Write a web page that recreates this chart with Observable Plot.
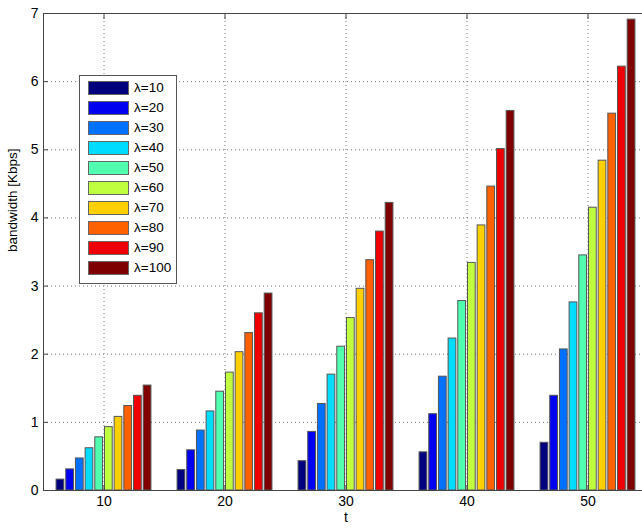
<!DOCTYPE html>
<html><head><meta charset="utf-8">
<script src="https://cdn.jsdelivr.net/npm/d3@7"></script>
<script src="https://cdn.jsdelivr.net/npm/@observablehq/plot@0.6"></script>
<style>
html,body{margin:0;padding:0;overflow:hidden;background:#fff;}
#wrap{position:relative;width:642px;height:528px;overflow:hidden;font-family:"Liberation Sans",Arial,sans-serif;}
#legend{position:absolute;left:79px;top:75px;width:98px;height:209px;border:1px solid #555;background:#fff;box-sizing:border-box;}
.row{position:absolute;left:8px;height:15px;display:flex;align-items:center;}
.sw{width:41px;height:14px;border:1px solid #666;box-sizing:border-box;}
.lb{margin-left:5px;font-size:13.5px;color:#000;white-space:nowrap;}
</style>
</head><body>
<div id="wrap"><div id="chart"></div><div id="legend"></div></div>
<script>
// categories
const tValues = [10, 20, 30, 40, 50];
const lambdas = [10, 20, 30, 40, 50, 60, 70, 80, 90, 100];
// series values: bandwidth [Kbps] for each t, across λ = 10..100
const bwT10 = [0.16, 0.31, 0.47, 0.62, 0.78, 0.93, 1.08, 1.24, 1.39, 1.54];
const bwT20 = [0.30, 0.59, 0.88, 1.16, 1.45, 1.73, 2.03, 2.31, 2.60, 2.89];
const bwT30 = [0.43, 0.86, 1.27, 1.70, 2.11, 2.53, 2.96, 3.38, 3.80, 4.22];
const bwT40 = [0.56, 1.12, 1.67, 2.23, 2.78, 3.34, 3.89, 4.46, 5.01, 5.57];
const bwT50 = [0.70, 1.39, 2.07, 2.76, 3.45, 4.15, 4.84, 5.53, 6.22, 6.91];
// tick labels
const xTicks = [10, 20, 30, 40, 50];
const yTicks = [0, 1, 2, 3, 4, 5, 6, 7];
// colours (jet-like)
const colors = ["#00007f", "#0000f0", "#0070ff", "#00dcff", "#50ffb0", "#bfff40", "#ffcf00", "#ff6000", "#ef0000", "#7f0000"];

const series = [bwT10, bwT20, bwT30, bwT40, bwT50];
const rows = [];
tValues.forEach((t, g) => series[g].forEach((v, i) => rows.push({t, i, lambda: lambdas[i], v})));

// MATLAB grouped-bar geometry (in x data units)
const spacing = 10, groupFrac = 0.8, barFrac = 0.8;
const pitch = spacing * groupFrac / lambdas.length;
const bx1 = d => d.t - spacing * groupFrac / 2 + d.i * pitch + pitch * (1 - barFrac) / 2;
const bx2 = d => bx1(d) + pitch * barFrac;

const noText = () => "";
const font = "Liberation Sans, Arial, sans-serif";
const plot = Plot.plot({
  width: 648,
  height: 528,
  marginLeft: 43,
  marginRight: 0,
  marginTop: 13,
  marginBottom: 38,
  style: {maxWidth: "none", fontFamily: font, fontSize: "14px", background: "#fff", color: "#000"},
  x: {domain: [5, 55], ticks: xTicks},
  y: {domain: [0, 7], ticks: yTicks},
  color: {domain: lambdas, range: colors},
  marks: [
    Plot.gridY(yTicks, {stroke: "#777", strokeOpacity: 1, strokeDasharray: "1,3"}),
    Plot.gridX(xTicks, {stroke: "#777", strokeOpacity: 1, strokeDasharray: "1,3"}),
    Plot.rectY(rows, {x1: bx1, x2: bx2, y1: 0, y2: "v", fill: "lambda", stroke: "#555", strokeWidth: 1}),
    Plot.frame({stroke: "#444"}),
    Plot.axisX(xTicks, {anchor: "bottom", tickSize: 0, tickPadding: 6, label: null, tickFormat: d3.format("d"), fontSize: "14px"}),
    Plot.axisX(xTicks, {anchor: "bottom", tickSize: -5, tickFormat: noText, label: null, stroke: "#444"}),
    Plot.axisX(xTicks, {anchor: "top", tickSize: -5, tickFormat: noText, label: null, stroke: "#444"}),
    Plot.axisY(yTicks, {anchor: "left", tickSize: 0, tickPadding: 5, label: null, tickFormat: d3.format("d"), fontSize: "14px"}),
    Plot.axisY(yTicks, {anchor: "left", tickSize: -5, tickFormat: noText, label: null, stroke: "#444"}),
    Plot.text(["t"], {frameAnchor: "bottom", dy: 31, fontSize: 14}),
    Plot.text(["bandwidth [Kbps]"], {frameAnchor: "left", rotate: -90, dx: -31, fontSize: 13.5})
  ]
});
document.getElementById("chart").appendChild(plot);

const legend = document.getElementById("legend");
lambdas.forEach((l, i) => {
  const r = document.createElement("div");
  r.className = "row";
  r.style.top = (4 + i * 20) + "px";
  const s = document.createElement("div");
  s.className = "sw";
  s.style.background = colors[i];
  const t = document.createElement("span");
  t.className = "lb";
  t.textContent = "λ=" + l;
  r.appendChild(s); r.appendChild(t);
  legend.appendChild(r);
});
</script>
</body></html>
